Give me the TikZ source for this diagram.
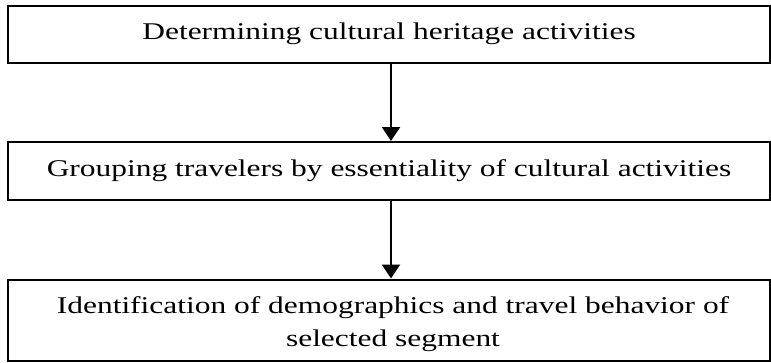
\documentclass[tikz,border=0pt]{standalone}
\usepackage{fontspec}
\setmainfont{Liberation Serif}[FakeStretch=1.31]
\usetikzlibrary{arrows.meta}
\begin{document}
\begin{tikzpicture}[x=1pt,y=-1pt,
  stepbox/.style={draw=black,line width=2pt,minimum width=762pt,inner sep=0pt},
  steptext/.style={anchor=base,inner sep=0pt,font=\fontsize{24}{33}\selectfont},
  flow/.style={line width=2.4pt,-{Triangle[width=18pt,length=14pt]}}]
\useasboundingbox (0,0) rectangle (771,362);
\node[stepbox,minimum height=57pt] (a) at (388.5,34.5) {};
\node[stepbox,minimum height=58pt] (b) at (388.5,171) {};
\node[stepbox,minimum height=81pt] (c) at (388.5,320) {};
\node[steptext] (ta) at (389,39) {Determining cultural heritage activities};
\node[steptext] (tb) at (389,176) {Grouping travelers by essentiality of cultural activities};
\node[steptext] (tc1) at (393,313) {Identification of demographics and travel behavior of};
\node[steptext] (tc2) at (393,346) {selected segment};
\draw[flow] (a.south -| 391,0) -- (b.north -| 391,0);
\draw[flow] (b.south -| 391,0) -- (c.north -| 391,0);
\end{tikzpicture}
\end{document}
